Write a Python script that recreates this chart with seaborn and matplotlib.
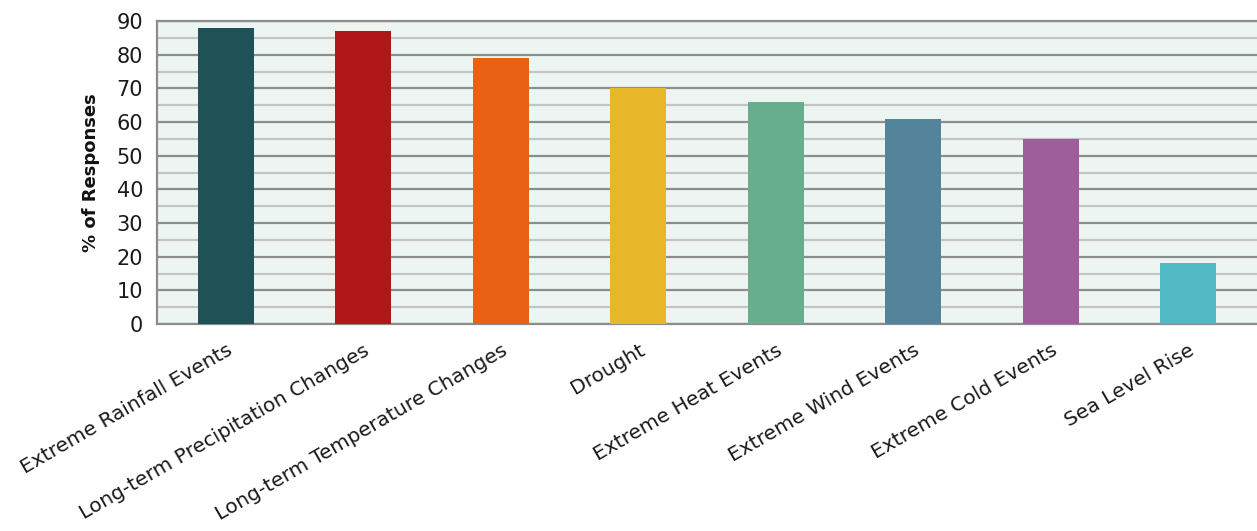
import matplotlib
matplotlib.use("Agg")
import matplotlib.pyplot as plt
import seaborn as sns
import pandas as pd
import numpy as np

categories = [
    "Extreme Rainfall Events",
    "Long-term Precipitation Changes",
    "Long-term Temperature Changes",
    "Drought",
    "Extreme Heat Events",
    "Extreme Wind Events",
    "Extreme Cold Events",
    "Sea Level Rise",
]
responses = [88, 87, 79, 70, 66, 61, 55, 18]
colors = ["#1F5257", "#B01717", "#E96214", "#E8B629",
          "#67AE8E", "#538499", "#9D5E9A", "#51B9C4"]

df = pd.DataFrame({"hazard": categories, "pct": responses})

sns.set_theme(style="white")
plt.rcParams["font.family"] = ["DejaVu Sans"]

fig = plt.figure(figsize=(12.57, 5.31), dpi=100)
ax = fig.add_axes([157 / 1257, (531 - 324) / 531, 1100 / 1257, 303 / 531])
ax.set_facecolor("#EDF5F2")

sns.barplot(data=df, x="hazard", y="pct", hue="hazard", palette=colors,
            legend=False, width=0.41, saturation=1, linewidth=0,
            edgecolor="none", ax=ax, zorder=3)

ax.set_xlim(-0.5, len(categories) - 0.5)
ax.set_ylim(0, 90)

# gridlines: major every 10, minor every 5
ax.set_yticks(np.arange(0, 91, 10))
ax.set_yticks(np.arange(5, 90, 10), minor=True)
ax.yaxis.grid(True, which="major", color="#8C8C8C", linewidth=1.6, zorder=0)
ax.yaxis.grid(True, which="minor", color="#C4C4C4", linewidth=1.6, zorder=0)
ax.set_axisbelow(True)
ax.tick_params(axis="y", which="major", direction="out", length=6, width=1.2,
               color="#8C8C8C", labelsize=15, labelcolor="#1A1A1A", pad=4)
ax.tick_params(axis="y", which="minor", length=0)

# category ticks sit between bars
ax.set_xticks(np.arange(len(categories)))
ax.set_xticklabels(categories, rotation=30, ha="right", va="top",
                   rotation_mode="anchor", fontsize=14.5, color="#1A1A1A")
ax.set_xticks(np.arange(-0.5, len(categories), 1.0), minor=True)
ax.tick_params(axis="x", which="major", length=0, pad=12)
ax.tick_params(axis="x", which="minor", direction="out", length=7, width=1.2,
               color="#8C8C8C")

for side in ["left", "bottom", "top"]:
    ax.spines[side].set_visible(True)
    ax.spines[side].set_color("#8C8C8C")
    ax.spines[side].set_linewidth(1.6)
ax.spines["right"].set_visible(False)

ax.set_xlabel("")
ax.set_ylabel("% of Responses", fontsize=13, fontweight="bold", color="#111111",
              labelpad=12)

fig.savefig("out.png", dpi=100)
